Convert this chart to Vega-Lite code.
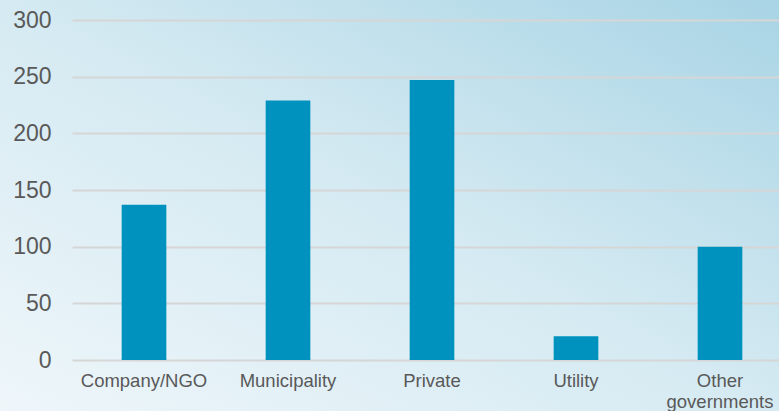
{
  "$schema": "https://vega.github.io/schema/vega-lite/v6.json",
  "autosize": {"type": "none"},
  "padding": 0,
  "width": 779,
  "height": 411,
  "background": "#e4f1f7",
  "config": {
    "view": {
      "stroke": null,
      "fill": {
        "gradient": "linear",
        "x1": 0, "y1": 1, "x2": 1, "y2": 0,
        "stops": [
          {"offset": 0, "color": "#eef6fa"},
          {"offset": 0.5, "color": "#d5eaf2"},
          {"offset": 1, "color": "#a8d4e5"}
        ]
      }
    },
    "font": "Liberation Sans"
  },
  "data": {
    "values": [
      {"category": "Company/NGO", "value": 137},
      {"category": "Municipality", "value": 229},
      {"category": "Private", "value": 247},
      {"category": "Utility", "value": 21},
      {"category": "Other governments", "value": 100}
    ]
  },
  "mark": {"type": "bar", "color": "#0092bf"},
  "encoding": {
    "x": {
      "field": "category",
      "type": "nominal",
      "sort": null,
      "scale": {"range": [72, 792], "paddingInner": 0.69, "paddingOuter": 0.345},
      "axis": {
        "title": null,
        "domain": false,
        "ticks": false,
        "offset": -51,
        "labelAngle": 0,
        "labelFontSize": 18.5,
        "labelColor": "#595959",
        "labelPadding": 11,
        "labelLineHeight": 21,
        "labelExpr": "datum.label == 'Other governments' ? ['Other', 'governments'] : datum.label"
      }
    },
    "y": {
      "field": "value",
      "type": "quantitative",
      "scale": {"domain": [0, 300], "range": [360, 20]},
      "axis": {
        "title": null,
        "domain": false,
        "ticks": false,
        "values": [0, 50, 100, 150, 200, 250, 300],
        "labelFontSize": 23,
        "labelColor": "#595959",
        "labelPadding": -51,
        "labelAlign": "right",
        "gridColor": "#d6d6d6",
        "gridWidth": 2,
        "gridOpacity": 1
      }
    }
  }
}
